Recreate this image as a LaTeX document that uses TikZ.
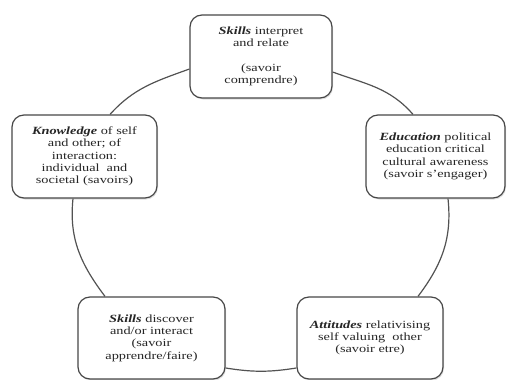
\documentclass[tikz,border=0pt]{standalone}
\usepackage{fontspec}
\setmainfont{Liberation Serif}[FakeStretch=1.3]
\usetikzlibrary{shadows}
\begin{document}
\begin{tikzpicture}[x=1pt,y=1pt,
  box/.style={draw=black!72, line width=1.2pt, rounded corners=12pt, fill=white,
    align=center, inner sep=0pt, text=black!85,
    font=\fontsize{11}{12.3}\selectfont,
    drop shadow={shadow xshift=1pt, shadow yshift=-1.5pt, opacity=0.25}},
  link/.style={draw=black!68, line width=1.2pt}]
\useasboundingbox (0,0) rectangle (507,-380);
\node[box, minimum width=142pt, minimum height=83pt] (t) at (261,-56.5)
  {\textbf{\textit{Skills}} interpret\\ and relate\\[12.3pt] (savoir\\ comprendre)};
\node[box, minimum width=145pt, minimum height=83pt] (k) at (84.5,-156.5)
  {\textbf{\textit{Knowledge}} of self\\ and other; of\\ interaction:\\ individual~ and\\ societal (savoirs)};
\node[box, minimum width=139pt, minimum height=83pt] (e) at (435.5,-156.5)
  {\textbf{\textit{Education}} political\\ education critical\\ cultural awareness\\ (savoir s'engager)};
\node[box, minimum width=147pt, minimum height=82pt] (bl) at (151.5,-338)
  {\textbf{\textit{Skills}} discover\\ and/or interact\\ (savoir\\ apprendre/faire)};
\node[box, minimum width=146pt, minimum height=82pt] (br) at (370,-338)
  {\textbf{\textit{Attitudes}} relativising\\ self valuing~ other\\ (savoir etre)};
\draw[link] ([yshift=-12.5pt]t.west) to[out=200,in=48] ([xshift=25.5pt]k.north);
\draw[link] ([yshift=-15.5pt]t.east) to[out=-20,in=131] ([xshift=-22.5pt]e.north);
\draw[link] ([xshift=-11.5pt]k.south) to[out=264,in=127] ([xshift=-46.5pt]bl.north);
\draw[link] ([xshift=12.5pt]e.south) to[out=-84,in=53] ([xshift=48pt]br.north);
\draw[link] ([yshift=-30pt]bl.east) to[out=-9,in=189] ([yshift=-30pt]br.west);
\end{tikzpicture}
\end{document}
